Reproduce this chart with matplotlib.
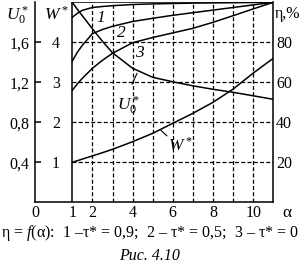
import matplotlib
matplotlib.use("Agg")
import matplotlib.pyplot as plt

# ---- data ----
alpha = [1, 1.25, 1.5, 2, 2.5, 3, 4, 5, 6, 7, 8, 9, 10, 11]
eta1 = [92.5, 94.5, 96.0, 97.4, 97.9, 98.3, 98.9, 99.2, 99.4, 99.6, 99.7, 99.8, 99.9, 100]
eta2 = [70.6, 75.0, 78.5, 84.3, 86.4, 88.0, 90.4, 92.0, 93.5, 94.8, 96.1, 97.4, 98.7, 100]
eta3 = [56.0, 59.2, 62.0, 67.0, 71.0, 74.5, 79.8, 82.4, 84.7, 87.0, 90.0, 93.3, 96.7, 100]
U0 = [2.0, 1.93, 1.865, 1.735, 1.61, 1.495, 1.34, 1.25, 1.205, 1.165, 1.13, 1.10, 1.065, 1.03]
W = [1.0, 1.04, 1.08, 1.16, 1.24, 1.325, 1.515, 1.725, 1.975, 2.225, 2.5, 2.83, 3.23, 3.6]

u_ticks = [0.4, 0.8, 1.2, 1.6]
u_labels = ["0,4", "0,8", "1,2", "1,6"]
w_ticks = [1, 2, 3, 4]
eta_ticks = [20, 40, 60, 80]
a_ticks = [1, 2, 4, 6, 8, 10]
a_grid = [2, 3, 4, 5, 6, 7, 8, 9, 10]
caption = "η = $\\mathit{f}$(α):  $\\mathit{1}$ –τ* = 0,9;  $\\mathit{2}$ – τ* = 0,5;  $\\mathit{3}$ – τ* = 0"
figcap = "Рис. 4.10"

plt.rcParams["font.family"] = ["Liberation Serif", "DejaVu Serif"]
plt.rcParams["mathtext.fontset"] = "custom"
plt.rcParams["mathtext.rm"] = "Liberation Serif"
plt.rcParams["mathtext.it"] = "Liberation Serif:italic"
FS = 11.5
FL = 12.5

W_PX, H_PX = 302, 268
fig = plt.figure(figsize=(W_PX / 100, H_PX / 100), dpi=100)
x0, x1, ytop, ybot = 35, 273.3, 2.3, 202.3
ax = fig.add_axes([x0 / W_PX, (H_PX - ybot) / H_PX, (x1 - x0) / W_PX, (ybot - ytop) / H_PX])
a_lo = 1 - (72.3 - x0) / 20.1
ax.set_xlim(a_lo, 11)
ax.set_ylim(0, 2)
ax.patch.set_visible(False)

axE = ax.twinx()
axE.set_ylim(0, 100)
axW = ax.twinx()
axW.set_ylim(0, 5)

for a in (ax, axE, axW):
    a.spines["top"].set_visible(False)
for a in (axE, axW):
    a.spines["left"].set_visible(False)
    a.spines["bottom"].set_visible(False)
axW.spines["right"].set_visible(False)
ax.spines["right"].set_visible(False)
for s in ("left", "bottom"):
    ax.spines[s].set_linewidth(1.1)
axE.spines["right"].set_linewidth(1.1)

# left U0 axis
ax.set_yticks(u_ticks)
ax.set_yticklabels(u_labels)
ax.tick_params(axis="y", direction="in", length=4, width=1.1, pad=4, labelsize=FS)
# bottom axis
ax.set_xticks([a_lo] + a_ticks)
ax.set_xticklabels(["0"] + [str(t) for t in a_ticks])
ax.tick_params(axis="x", length=0, pad=2, labelsize=FS)
# right eta axis
axE.set_yticks(eta_ticks)
axE.tick_params(axis="y", length=0, pad=2, labelsize=FS)
# W axis labels left of frame
axW.yaxis.set_ticks_position("left")
axW.yaxis.set_label_position("left")
axW.spines["left"].set_position(("data", 1))
axW.set_yticks(w_ticks)
axW.tick_params(axis="y", length=0, pad=9, labelsize=FS)

# frame at alpha=1 and top
axE.vlines(1, 0, 100, color="black", lw=1.1)
axE.hlines(100, 1, 11, color="black", lw=1.1)

# grid
grid_kw = dict(color="black", lw=0.9, linestyles=(0, (3.2, 1.8)))
axE.vlines(a_grid, 0, 100, **grid_kw)
axE.hlines(eta_ticks, 1, 11, **grid_kw)

lw = 1.1
axE.plot(alpha, eta1, color="black", lw=lw)
axE.plot(alpha, eta2, color="black", lw=lw)
axE.plot(alpha, eta3, color="black", lw=lw)
ax.plot(alpha, U0, color="black", lw=lw)
axW.plot(alpha, W, color="black", lw=lw)

# curve labels
axE.text(2.43, 92.1, "1", style="italic", fontsize=FL, ha="center", va="center")
axE.text(3.42, 84.5, "2", style="italic", fontsize=FL, ha="center", va="center")
axE.text(4.36, 74.5, "3", style="italic", fontsize=FL, ha="center", va="center")
ax.annotate("", xy=(4.22, 1.29), xytext=(3.97, 1.18),
            arrowprops=dict(arrowstyle="-", color="black", lw=0.8, shrinkA=0, shrinkB=0))
ax.text(3.78, 0.96, "$\\mathit{U}_0^*$", fontsize=FL, ha="center", va="center")
axW.annotate("", xy=(5.41, 1.80), xytext=(5.71, 1.66),
             arrowprops=dict(arrowstyle="-", color="black", lw=0.8, shrinkA=0, shrinkB=0))
axW.text(6.4, 1.42, "$\\mathit{W}^*$", fontsize=FL, ha="center", va="center")

# axis titles
fig.text(17 / W_PX, 1 - 16 / H_PX, "$\\mathit{U}_0^*$", fontsize=FL, ha="center", va="center")
fig.text(56 / W_PX, 1 - 15 / H_PX, "$\\mathit{W}^*$", fontsize=FL, ha="center", va="center")
fig.text(275 / W_PX, 1 - 14 / H_PX, "η,%", fontsize=FS, ha="left", va="center")
fig.text(287 / W_PX, 1 - 213 / H_PX, "α", fontsize=FL, ha="center", va="center")

fig.text(150 / W_PX, 1 - 233 / H_PX, caption, fontsize=FS, ha="center", va="center")
fig.text(150 / W_PX, 1 - 256 / H_PX, figcap, fontsize=FS, style="italic", ha="center", va="center")

fig.savefig("out.png", dpi=100)
